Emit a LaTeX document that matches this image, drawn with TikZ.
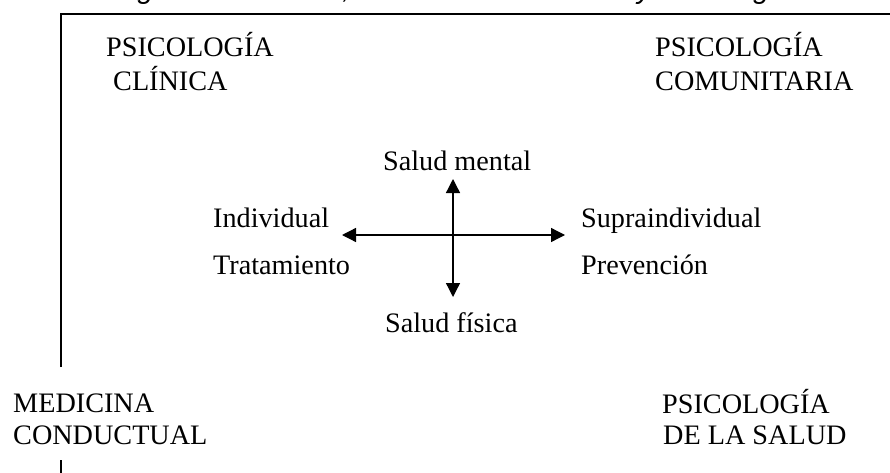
\documentclass[tikz,border=0pt]{standalone}
\usepackage{fontspec}
\setmainfont{Liberation Serif}
\setsansfont{Liberation Sans}
\usetikzlibrary{arrows.meta,positioning}

\begin{document}
\begin{tikzpicture}[x=1pt,y=-1pt,node distance=34pt,on grid,
    >={Triangle[length=14pt,width=14pt]}]
  \tikzset{lbl/.style={inner sep=0pt,anchor=base west,font=\fontsize{28.2}{34}\selectfont}}
  \useasboundingbox (0,0) rectangle (890,473);
  \clip (0,0) rectangle (890,473);

  % linea del titulo, cortada por arriba
  \node[lbl,font=\sffamily\itshape\fontsize{29}{34}\selectfont] (title) at (44,-1) {Psicología Comunitaria, Medicina Conductual y Psicología de la Salud};

  % marco
  \coordinate (fa) at (61,367);
  \coordinate (fb) at (61,14);
  \coordinate (fc) at (892,14);
  \coordinate (fd) at (61,460);
  \coordinate (fe) at (61,475);
  \draw[line width=1.6pt] (fa) -- (fb) -- (fc);
  \draw[line width=1.6pt] (fd) -- (fe);

  % esquinas
  \node[lbl] (clin1) at (106,57) {PSICOLOGÍA};
  \node[lbl] (clin2) [below right = 34pt and 7pt of clin1.base west, anchor=base west] {CLÍNICA};
  \node[lbl] (com1) at (655,57) {PSICOLOGÍA};
  \node[lbl] (com2) [below = 34pt of com1.base west, anchor=base west] {COMUNITARIA};
  \node[lbl] (med1) at (13,412) {MEDICINA};
  \node[lbl] (med2) [below = 32pt of med1.base west, anchor=base west] {CONDUCTUAL};
  \node[lbl] (sal1) at (662,413) {PSICOLOGÍA};
  \node[lbl] (sal2) [below right = 31pt and 1pt of sal1.base west, anchor=base west] {DE LA SALUD};

  % centro
  \node[lbl] (ind) at (213,227) {Individual};
  \node[lbl] (trat) [below = 47pt of ind.base west, anchor=base west] {Tratamiento};
  \node[lbl] (supra) at (581,227) {Supraindividual};
  \node[lbl] (prev) [below = 47pt of supra.base west, anchor=base west] {Prevención};
  \node[lbl] (ment) at (383,170) {Salud mental};
  \node[lbl] (fis) at (385,332) {Salud física};

  % ejes
  \coordinate (arU) at (453,179);
  \coordinate (arD) at (453,297);
  \coordinate (arL) at (342,235);
  \coordinate (arR) at (565,235);
  \draw[<->,line width=1.3pt] (arL) -- (arR);
  \draw[<->,line width=1.3pt] (arD) -- (arU);
\end{tikzpicture}
\end{document}
